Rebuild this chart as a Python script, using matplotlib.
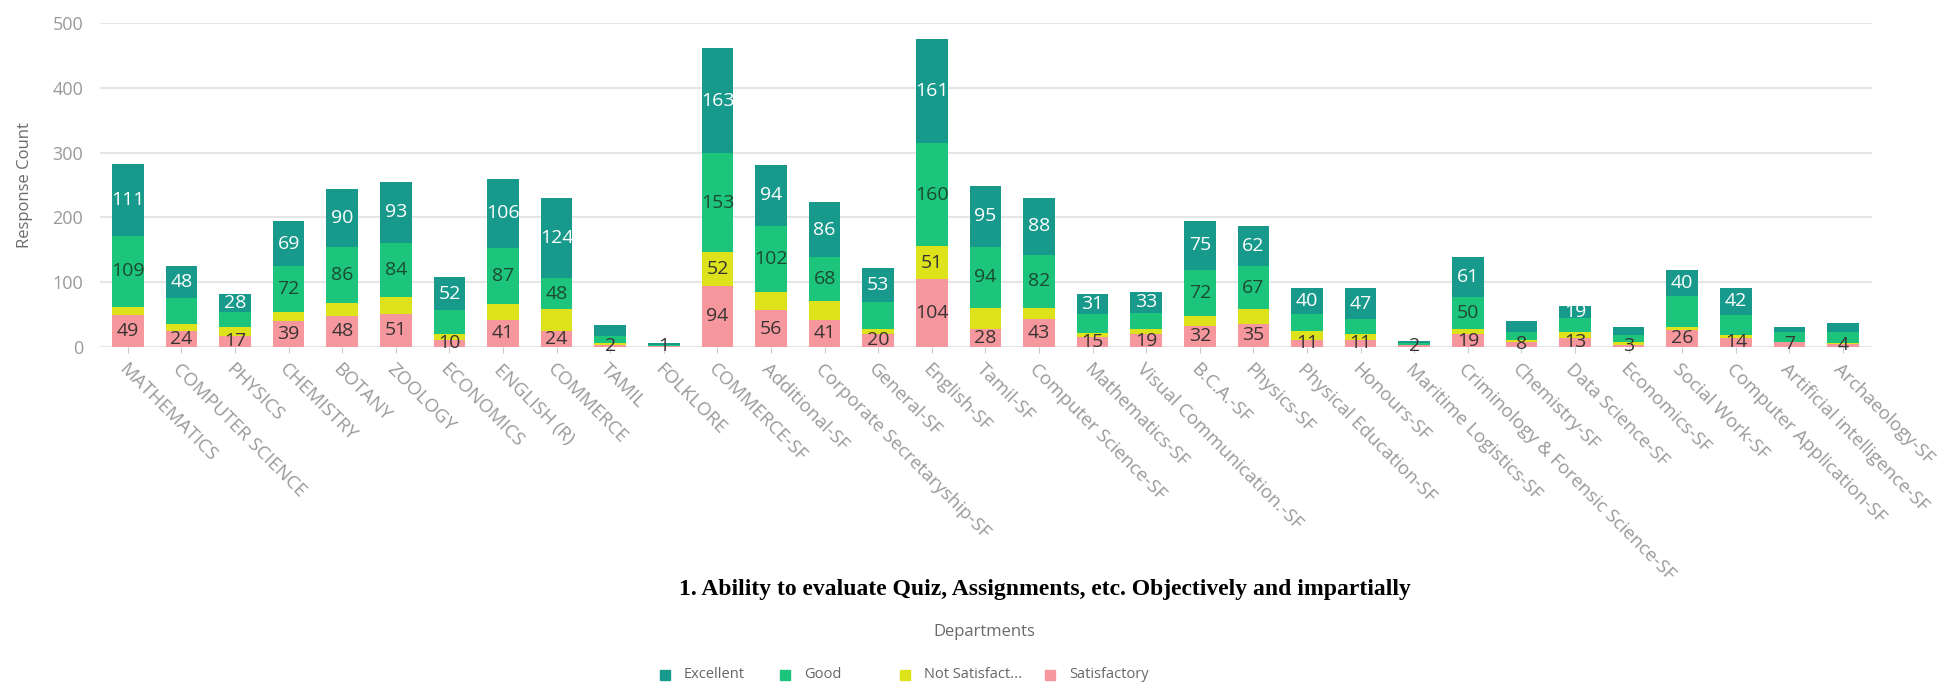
import matplotlib
matplotlib.use("Agg")
import matplotlib.pyplot as plt
from matplotlib.patches import Rectangle
import numpy as np

plt.rcParams["font.family"] = ["Open Sans", "DejaVu Sans"]

# ---------------------------------------------------------------------
#  Data
# ---------------------------------------------------------------------
departments = [
    "MATHEMATICS", "COMPUTER SCIENCE", "PHYSICS", "CHEMISTRY", "BOTANY",
    "ZOOLOGY", "ECONOMICS", "ENGLISH (R)", "COMMERCE", "TAMIL", "FOLKLORE",
    "COMMERCE-SF", "Additional-SF", "Corporate Secretaryship-SF", "General-SF",
    "English-SF", "Tamil-SF", "Computer Science-SF", "Mathematics-SF",
    "Visual Communication.-SF", "B.C.A.-SF", "Physics-SF",
    "Physical Education-SF", "Honours-SF", "Maritime Logistics-SF",
    "Criminology & Forensic Science-SF", "Chemistry-SF", "Data Science-SF",
    "Economics-SF", "Social Work-SF", "Computer Application-SF",
    "Artificial intelligence-SF", "Archaeology-SF",
]
satisfactory = [49, 24, 17, 39, 48, 51, 10, 41, 24, 2, 1, 94, 56, 41, 20, 104, 28,
                43, 15, 19, 32, 35, 11, 11, 2, 19, 8, 13, 3, 26, 14, 7, 4]
not_satisfactory = [13, 11, 13, 14, 20, 26, 10, 25, 34, 3, 0, 52, 29, 29, 8, 51, 32,
                    17, 6, 9, 15, 23, 13, 9, 0, 8, 2, 10, 4, 5, 4, 1, 1]
good = [109, 41, 24, 72, 86, 84, 36, 87, 48, 12, 2, 153, 102, 68, 41, 160, 94,
        82, 30, 24, 72, 67, 26, 23, 4, 50, 13, 21, 11, 47, 31, 15, 18]
excellent = [111, 48, 28, 69, 90, 93, 52, 106, 124, 17, 2, 163, 94, 86, 53, 161, 95,
             88, 31, 33, 75, 62, 40, 47, 3, 61, 16, 19, 12, 40, 42, 7, 13]

# stacking order bottom -> top: (name, values, colour, label colour, min value to label)
series = [
    ("Satisfactory", satisfactory, "#f5979d", "#3a3333", 1),
    ("Not Satisfactory", not_satisfactory, "#dde21a", "#333333", 50),
    ("Good", good, "#1dc57c", "#1c4a30", 48),
    ("Excellent", excellent, "#17998b", "#ffffff", 18),
]

W, H = 1949, 684
fig = plt.figure(figsize=(W / 100, H / 100), dpi=100)
ax = fig.add_axes([100 / W, 337.3 / H, (1872 - 100) / W, 323.4 / H])

x = np.arange(len(departments))
bottom = np.zeros(len(departments))
for name, vals, col, lcol, thr in series:
    vals = np.array(vals, dtype=float)
    ax.bar(x, vals, 0.59, bottom=bottom, color=col, zorder=3)
    for xi, b, v in zip(x, bottom, vals):
        if v >= thr:
            ax.text(xi, b + v / 2, f"{int(v)}", ha="center", va="center",
                    fontsize=14, color=lcol, zorder=4)
    bottom += vals

# ---------------------------------------------------------------------
#  Axis cosmetics
# ---------------------------------------------------------------------
ax.set_ylim(0, 500)
ax.set_xlim(-0.52, len(departments) - 0.46)
ax.set_yticks(range(0, 501, 100))
ax.yaxis.grid(True, color="#e6e6e6", linewidth=1.6, zorder=0)
ax.set_axisbelow(True)
for s in ax.spines.values():
    s.set_visible(False)
ax.tick_params(axis="y", length=0, pad=12, labelsize=13, labelcolor="#9a9a9a")
ax.tick_params(axis="x", length=4, color="#cccccc", pad=6)
ax.set_xticks(x)
ax.set_xticklabels(departments, rotation=-45, ha="left", va="top",
                   rotation_mode="anchor", fontsize=13.5, color="#9a9a9a")
ax.set_ylabel("Response Count", fontsize=12, color="#6a6a6a", labelpad=14)

fig.text(1045 / W, 1 - 589 / H,
         "1. Ability to evaluate Quiz, Assignments, etc. Objectively and impartially",
         ha="center", va="center", fontsize=17, fontweight="bold",
         family="Liberation Serif", color="#000000")
fig.text(984 / W, 1 - 632 / H, "Departments", ha="center", va="center",
         fontsize=12, color="#6a6a6a")

# legend drawn by hand so spacing matches the reference
legend_items = [("Excellent", "#17998b", 660), ("Good", "#1dc57c", 780),
                ("Not Satisfact...", "#dde21a", 900), ("Satisfactory", "#f5979d", 1045)]
for txt, col, px in legend_items:
    fig.add_artist(Rectangle((px / W, (9 - 5) / H), 10 / W, 10 / H,
                             transform=fig.transFigure, color=col))
    fig.text((px + 24) / W, 9 / H, txt, ha="left", va="center",
             fontsize=10.5, color="#666666")

fig.savefig("out.png", dpi=100)
